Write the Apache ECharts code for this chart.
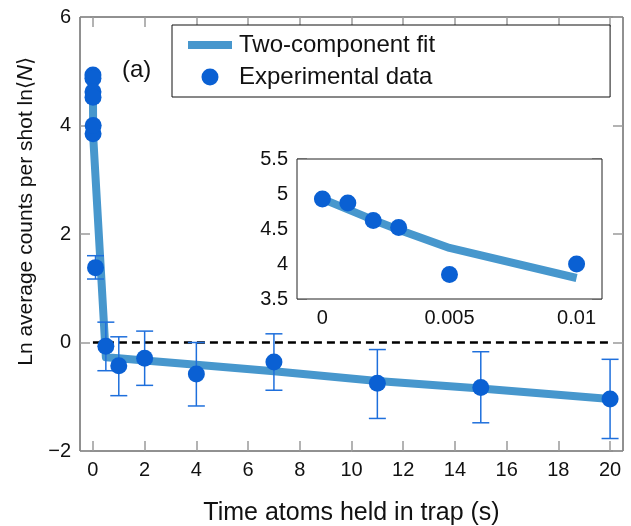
<!DOCTYPE html>
<html>
<head>
<meta charset="utf-8">
<script src="https://cdn.jsdelivr.net/npm/echarts@6/dist/echarts.min.js"></script>
<style>
  html, body { margin: 0; padding: 0; background: #fff; }
  #chart { width: 631px; height: 526px; }
</style>
</head>
<body>
<div id="chart"></div>
<script>
/**************************************************************************************************
 * data
 */
var timeS   = [0, 0.001, 0.002, 0.003, 0.005, 0.01, 0.1, 0.5, 1, 2, 4, 7, 11, 15, 20];
var lnCount = [4.93, 4.87, 4.62, 4.52, 3.85, 4.00, 1.38, -0.07, -0.43, -0.29, -0.58, -0.36, -0.75, -0.83, -1.04];

var errTime = [0.1, 0.5, 1, 2, 4, 7, 11, 15, 20];
var errHigh = [1.60, 0.375, 0.105, 0.21, 0.0, 0.16, -0.13, -0.17, -0.31];
var errLow  = [1.17, -0.52, -0.98, -0.79, -1.17, -0.88, -1.40, -1.48, -1.77];

var fitTime = [0, 0.001, 0.002, 0.003, 0.005, 0.01, 0.5, 1, 2, 4, 7, 11, 15, 20];
var fitLn   = [4.93, 4.78, 4.63, 4.49, 4.23, 3.80, -0.27, -0.29, -0.33, -0.41, -0.53, -0.71, -0.85, -1.04];

var zeroX = [0, 20];
var zeroY = [0, 0];

var xTicks     = [0, 2, 4, 6, 8, 10, 12, 14, 16, 18, 20];
var insetTicks = [0, 0.005, 0.01];
var insetMaxT  = 0.01;

/**************************************************************************************************
 * styles
 */
var FONT = 'Liberation Sans, Arial, Helvetica, sans-serif';
var fitColor = '#4797cd';
var dotColor = '#0a60d3';
var errColor = '#1e6fdc';
var tickColor = '#9a9a9a';

function pairs(xs, ys) {
	var out = [];
	for (var i = 0; i < xs.length; i++) out.push([xs[i], ys[i]]);
	return out;
}
function pairsUpTo(xs, ys, tmax) {
	var out = [];
	for (var i = 0; i < xs.length; i++) {
		if (xs[i] <= tmax + 1e-9) out.push([xs[i], ys[i]]);
	}
	return out;
}
function minusFmt(v) {
	return v < 0 ? '\u2212' + Math.abs(v) : String(v);
}

var errData = [];
for (var k = 0; k < errTime.length; k++) errData.push([errTime[k], errLow[k], errHigh[k]]);

var noLine = { show: false, onZero: false };
var tickStyle = { inside: true, length: 10, lineStyle: { color: tickColor, width: 1.5 } };
var labelStyle = { color: '#111', fontSize: 20, fontFamily: FONT };

var chart = echarts.init(document.getElementById('chart'));

var option = {
	backgroundColor: '#fff',
	animation: false,
	textStyle: { fontFamily: FONT },
	legend: {
		left: 172,
		top: 25,
		orient: 'vertical',
		itemWidth: 44,
		itemHeight: 17,
		itemGap: 8,
		padding: [8, 175, 8, 12],
		backgroundColor: '#fff',
		borderColor: '#111',
		borderWidth: 1,
		borderRadius: 0,
		textStyle: { fontSize: 24, lineHeight: 24, color: '#111', fontFamily: FONT, padding: [0, 0, 0, 2] },
		data: [
			{ name: 'Two-component fit', lineStyle: { width: 8, color: fitColor },
			  itemStyle: { color: 'rgba(0,0,0,0)', borderWidth: 0, opacity: 0 } },
			{ name: 'Experimental data', icon: 'circle', itemStyle: { color: dotColor } }
		]
	},
	graphic: [
		{ type: 'text', left: 122, top: 58, style: { text: '(a)', fontSize: 24, fontFamily: FONT, fill: '#111' } },
		{ type: 'text', left: 518, top: 180, style: { text: '(b)', fontSize: 24, fontFamily: FONT, fill: '#111' } }
	],
	grid: [
		{ left: 80, top: 17, width: 543, height: 434, outerBoundsMode: 'none', show: true,
		  borderColor: '#222', borderWidth: 1, backgroundColor: '#fff' },
		{ left: 297, top: 159, width: 305, height: 140, outerBoundsMode: 'none', show: true,
		  borderColor: '#222', borderWidth: 1, backgroundColor: '#fff', z: 5 }
	],
	xAxis: [
		{
			gridIndex: 0, type: 'value', min: -0.5, max: 20.5,
			name: 'Time atoms held in trap (s)', nameLocation: 'middle', nameGap: 50,
			nameTextStyle: { fontSize: 25, color: '#111', fontFamily: FONT },
			axisLine: noLine,
			axisTick: Object.assign({ customValues: xTicks }, tickStyle),
			axisLabel: Object.assign({ customValues: xTicks, margin: 9 }, labelStyle),
			splitLine: { show: false }
		},
		{
			gridIndex: 0, type: 'value', position: 'top', min: -0.5, max: 20.5,
			axisLine: noLine,
			axisTick: Object.assign({ customValues: xTicks }, tickStyle),
			axisLabel: { show: false },
			splitLine: { show: false }
		},
		{
			gridIndex: 1, type: 'value', min: -0.001, max: 0.011,
			axisLine: noLine,
			axisTick: Object.assign({ customValues: insetTicks }, tickStyle),
			axisLabel: Object.assign({ customValues: insetTicks, margin: 9 }, labelStyle),
			splitLine: { show: false }
		},
		{
			gridIndex: 1, type: 'value', position: 'top', min: -0.001, max: 0.011,
			axisLine: noLine,
			axisTick: Object.assign({ customValues: insetTicks }, tickStyle),
			axisLabel: { show: false },
			splitLine: { show: false }
		}
	],
	yAxis: [
		{
			gridIndex: 0, type: 'value', min: -2, max: 6, interval: 2,
			name: 'Ln average counts per shot ln\u27e8{n|N}\u27e9', nameLocation: 'middle', nameGap: 33,
			nameTextStyle: {
				fontSize: 21, color: '#111', fontFamily: FONT, padding: [0, 0, 0, 45],
				rich: { n: { fontSize: 22, fontStyle: 'italic', color: '#111', fontFamily: FONT } }
			},
			axisLine: noLine,
			axisTick: tickStyle,
			axisLabel: Object.assign({ margin: 9, formatter: minusFmt }, labelStyle),
			splitLine: { show: false }
		},
		{
			gridIndex: 0, type: 'value', position: 'right', min: -2, max: 6, interval: 2,
			axisLine: noLine,
			axisTick: tickStyle,
			axisLabel: { show: false },
			splitLine: { show: false }
		},
		{
			gridIndex: 1, type: 'value', min: 3.5, max: 5.5, interval: 0.5,
			axisLine: noLine,
			axisTick: tickStyle,
			axisLabel: Object.assign({ margin: 9 }, labelStyle),
			splitLine: { show: false }
		},
		{
			gridIndex: 1, type: 'value', position: 'right', min: 3.5, max: 5.5, interval: 0.5,
			axisLine: noLine,
			axisTick: tickStyle,
			axisLabel: { show: false },
			splitLine: { show: false }
		}
	],
	series: [
		{
			name: 'Two-component fit', type: 'line', xAxisIndex: 0, yAxisIndex: 0,
			data: pairs(fitTime, fitLn), symbol: 'none', z: 2,
			lineStyle: { color: fitColor, width: 8, join: 'round' }, itemStyle: { color: fitColor }
		},
		{
			name: 'zero', type: 'line', xAxisIndex: 0, yAxisIndex: 0,
			data: pairs(zeroX, zeroY), symbol: 'none', z: 3, silent: true,
			lineStyle: { color: '#000', width: 2.5, type: [8, 5] }
		},
		{
			name: 'errors', type: 'custom', xAxisIndex: 0, yAxisIndex: 0, z: 4,
			data: errData,
			encode: { x: 0, y: [1, 2] },
			renderItem: function (params, api) {
				var x = api.value(0);
				var pLo = api.coord([x, api.value(1)]);
				var pHi = api.coord([x, api.value(2)]);
				var w = 8.5;
				var st = { stroke: errColor, lineWidth: 1.5 };
				return {
					type: 'group',
					children: [
						{ type: 'line', shape: { x1: pLo[0], y1: pLo[1], x2: pHi[0], y2: pHi[1] }, style: st },
						{ type: 'line', shape: { x1: pLo[0] - w, y1: pLo[1], x2: pLo[0] + w, y2: pLo[1] }, style: st },
						{ type: 'line', shape: { x1: pHi[0] - w, y1: pHi[1], x2: pHi[0] + w, y2: pHi[1] }, style: st }
					]
				};
			}
		},
		{
			name: 'Experimental data', type: 'scatter', xAxisIndex: 0, yAxisIndex: 0, z: 5,
			data: pairs(timeS, lnCount), symbolSize: 17,
			itemStyle: { color: dotColor, opacity: 1 }
		},
		{
			name: 'Two-component fit', type: 'line', xAxisIndex: 2, yAxisIndex: 2, z: 6,
			data: pairsUpTo(fitTime, fitLn, insetMaxT), symbol: 'none',
			lineStyle: { color: fitColor, width: 8 }
		},
		{
			name: 'Experimental data', type: 'scatter', xAxisIndex: 2, yAxisIndex: 2, z: 7,
			data: pairsUpTo(timeS, lnCount, insetMaxT), symbolSize: 17,
			itemStyle: { color: dotColor, opacity: 1 }
		}
	]
};

chart.setOption(option);
</script>
</body>
</html>
